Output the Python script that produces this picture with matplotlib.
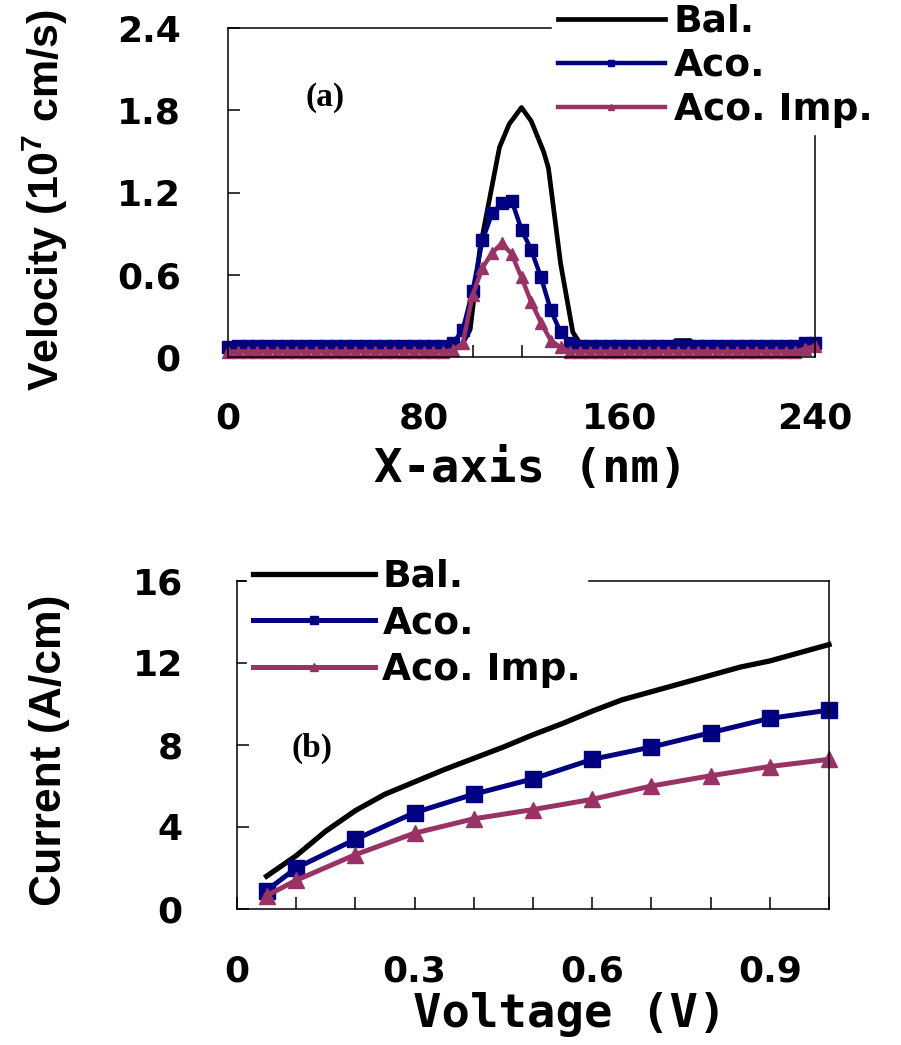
import matplotlib
matplotlib.use('Agg')
import matplotlib.pyplot as plt
from matplotlib.ticker import MultipleLocator

matplotlib.rcParams['mathtext.default'] = 'regular'

# ---- panel (a): velocity along the channel ----
pos_bal = [0, 95, 99, 103, 107, 111, 115, 120, 124, 129, 131, 136, 141, 145,
           181, 183, 189, 191, 240]
vel_bal = [0.07, 0.07, 0.2, 0.79, 1.16, 1.53, 1.70, 1.82, 1.72, 1.50, 1.38, 0.68,
           0.18, 0.07, 0.07, 0.12, 0.12, 0.07, 0.07]

pos = [0, 4, 8, 12, 16, 20, 24, 28, 32, 36, 40, 44, 48, 52, 56, 60, 64, 68, 72,
       76, 80, 84, 88, 92, 96, 100, 104, 108, 112, 116, 120, 124, 128, 132, 136,
       140, 144, 148, 152, 156, 160, 164, 168, 172, 176, 180, 184, 188, 192, 196,
       200, 204, 208, 212, 216, 220, 224, 228, 232, 236, 240]
vel_aco = [0.07, 0.08, 0.08, 0.08, 0.08, 0.08, 0.08, 0.08, 0.08, 0.08, 0.08,
           0.08, 0.08, 0.08, 0.08, 0.08, 0.08, 0.08, 0.08, 0.08, 0.08, 0.08,
           0.08, 0.10, 0.20, 0.48, 0.85, 1.05, 1.12, 1.14, 0.93, 0.78, 0.58,
           0.34, 0.18, 0.10, 0.08, 0.08, 0.08, 0.08, 0.08, 0.08, 0.08, 0.08,
           0.08, 0.08, 0.08, 0.08, 0.08, 0.08, 0.08, 0.08, 0.08, 0.08, 0.08,
           0.08, 0.08, 0.08, 0.08, 0.10, 0.10]
vel_imp = [0.04, 0.04, 0.04, 0.04, 0.04, 0.04, 0.04, 0.04, 0.04, 0.04, 0.04,
           0.04, 0.04, 0.04, 0.04, 0.04, 0.04, 0.04, 0.04, 0.04, 0.04, 0.04,
           0.04, 0.05, 0.10, 0.45, 0.65, 0.76, 0.83, 0.75, 0.58, 0.40, 0.25,
           0.12, 0.07, 0.04, 0.04, 0.04, 0.04, 0.04, 0.04, 0.04, 0.04, 0.04,
           0.04, 0.04, 0.04, 0.04, 0.04, 0.04, 0.04, 0.04, 0.04, 0.04, 0.04,
           0.04, 0.04, 0.04, 0.04, 0.06, 0.08]

# ---- panel (b): I-V ----
volt_bal = [0.05, 0.1, 0.15, 0.2, 0.25, 0.3, 0.35, 0.4, 0.45, 0.5, 0.55, 0.6,
            0.65, 0.7, 0.75, 0.8, 0.85, 0.9, 0.95, 1.0]
cur_bal = [1.6, 2.6, 3.8, 4.8, 5.6, 6.2, 6.8, 7.35, 7.9, 8.5, 9.05, 9.65, 10.2,
           10.6, 11.0, 11.4, 11.8, 12.1, 12.5, 12.9]
volt = [0.05, 0.1, 0.2, 0.3, 0.4, 0.5, 0.6, 0.7, 0.8, 0.9, 1.0]
cur_aco = [0.9, 2.0, 3.4, 4.7, 5.6, 6.35, 7.3, 7.9, 8.6, 9.3, 9.7]
cur_imp = [0.65, 1.4, 2.65, 3.7, 4.4, 4.85, 5.35, 6.0, 6.5, 6.95, 7.3]

labels = ['Bal.', 'Aco.', 'Aco. Imp.']
BLUE = '#000080'
PINK = '#993366'

W, H = 901, 1045
fig = plt.figure(figsize=(W / 100, H / 100), dpi=100)

tick_font = {'family': 'DejaVu Sans', 'weight': 'bold', 'size': 26}
ylab_font = {'family': 'Liberation Sans', 'weight': 'bold'}
xlab_font = {'family': 'DejaVu Sans Mono', 'weight': 'bold', 'size': 34}
leg_font = {'family': 'DejaVu Sans', 'weight': 'bold', 'size': 27}


def style_axes(ax, ypad, xpad):
    for s in ax.spines.values():
        s.set_linewidth(1.1)
    ax.tick_params(which='both', direction='in', length=8.5, width=1.1,
                   top=False, right=False)
    ax.tick_params(axis='y', pad=ypad)
    ax.tick_params(axis='x', pad=xpad)
    for t in ax.get_xticklabels() + ax.get_yticklabels():
        t.set_fontproperties(matplotlib.font_manager.FontProperties(**tick_font))


def add_legend(ax, x0, y0, hlen, tpad, lspace):
    ax.legend(loc='upper left', bbox_to_anchor=(x0 / W, 1 - y0 / H),
              bbox_transform=fig.transFigure, frameon=True, fancybox=False,
              edgecolor='white', facecolor='white', framealpha=1,
              borderpad=0.15, borderaxespad=0, handlelength=hlen,
              handletextpad=tpad, labelspacing=lspace, numpoints=1,
              markerscale=0.55, prop=leg_font)


# panel (a)
ax1 = fig.add_axes([228 / W, 1 - 357 / H, 587 / W, 329 / H])
ax1.plot(pos_bal, vel_bal, color='black', lw=3.4, label=labels[0], clip_on=False)
ax1.plot(pos, vel_aco, color=BLUE, lw=3.2, marker='s', ms=8, label=labels[1],
         clip_on=False)
ax1.plot(pos, vel_imp, color=PINK, lw=3.2, marker='^', ms=9, label=labels[2],
         clip_on=False)
ax1.set_xlim(0, 240)
ax1.set_ylim(0, 2.4)
ax1.xaxis.set_major_locator(MultipleLocator(80))
ax1.xaxis.set_minor_locator(MultipleLocator(20))
ax1.set_yticks([0, 0.6, 1.2, 1.8, 2.4])
ax1.set_yticklabels(['0', '0.6', '1.2', '1.8', '2.4'])
style_axes(ax1, 34, 32)
ax1.set_ylabel('Velocity (10$^{7}$ cm/s)', fontsize=31, ha='center', va='center',
               **ylab_font)
ax1.yaxis.set_label_coords(-0.312, 0.477)
ax1.set_xlabel('X-axis (nm)', ha='center', va='center', **xlab_font)
ax1.xaxis.set_label_coords(0.515, -0.343)
ax1.text(0.165, 0.79, '(a)', transform=ax1.transAxes, ha='center', va='center',
         family='Liberation Serif', weight='bold', size=24)
add_legend(ax1, 552, -2, 2.85, 0.25, 0.22)

# panel (b)
ax2 = fig.add_axes([237 / W, 1 - 909 / H, 592 / W, 328 / H])
ax2.plot(volt_bal, cur_bal, color='black', lw=3.8, label=labels[0], clip_on=False)
ax2.plot(volt, cur_aco, color=BLUE, lw=3.6, marker='s', ms=11, label=labels[1],
         clip_on=False)
ax2.plot(volt, cur_imp, color=PINK, lw=3.6, marker='^', ms=11, label=labels[2],
         clip_on=False)
ax2.set_xlim(0, 1.0)
ax2.set_ylim(0, 16)
ax2.set_xticks([0, 0.3, 0.6, 0.9])
ax2.set_xticklabels(['0', '0.3', '0.6', '0.9'])
ax2.xaxis.set_minor_locator(MultipleLocator(0.1))
ax2.set_yticks([0, 4, 8, 12, 16])
style_axes(ax2, 39, 33)
ax2.set_ylabel('Current (A/cm)', fontsize=32, ha='center', va='center',
               **ylab_font)
ax2.yaxis.set_label_coords(-0.316, 0.485)
ax2.set_xlabel('Voltage (V)', ha='center', va='center', **xlab_font)
ax2.xaxis.set_label_coords(0.5625, -0.323)
ax2.text(0.127, 0.49, '(b)', transform=ax2.transAxes, ha='center', va='center',
         family='Liberation Serif', weight='bold', size=24)
add_legend(ax2, 247, 553, 3.25, 0.21, 0.28)

fig.savefig('out.png', dpi=100)
